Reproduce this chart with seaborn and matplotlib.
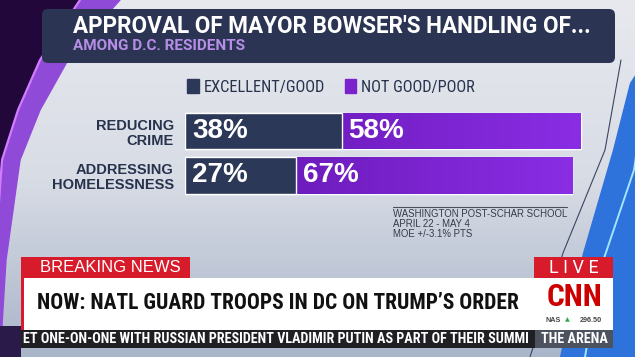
import matplotlib
matplotlib.use("Agg")
import matplotlib.pyplot as plt
import matplotlib.patches as mpatches
from matplotlib import font_manager
from matplotlib.colors import LinearSegmentedColormap
import numpy as np
import pandas as pd
import seaborn as sns

# --- chart data ---
topics = ["REDUCING\nCRIME", "ADDRESSING\nHOMELESSNESS"]
good = [38, 27]
poor = [58, 67]
series_names = ["EXCELLENT/GOOD", "NOT GOOD/POOR"]

title = "APPROVAL OF MAYOR BOWSER'S HANDLING OF..."
subtitle = "AMONG D.C. RESIDENTS"
source_lines = ["WASHINGTON POST-SCHAR SCHOOL", "APRIL 22 - MAY 4", "MOE +/-3.1% PTS"]
headline = "NOW: NATL GUARD TROOPS IN DC ON TRUMP\u2019S ORDER"
ticker = "ET ONE-ON-ONE WITH RUSSIAN PRESIDENT VLADIMIR PUTIN AS PART OF THEIR SUMMI"
ticker_tag = "THE ARENA"
stock = ("NAS", "296.50")

NAVY = "#2b3858"
PURPLE = "#7a22cc"
RED = "#d81b2b"

# pick a narrow face if one is installed
avail = {f.name for f in font_manager.fontManager.ttflist}
narrow = [n for n in ["Liberation Sans Narrow", "Roboto Condensed", "Open Sans Condensed",
                      "Noto Sans Condensed", "DejaVu Sans Condensed"] if n in avail]
COND = narrow[:1] + ["DejaVu Sans"]
SANS = ["Liberation Sans", "DejaVu Sans"]
HEAD = ["Roboto", "DejaVu Sans"]

sns.set_theme(style="white")
plt.rcParams["font.family"] = SANS

fig = plt.figure(figsize=(6.35, 3.57), dpi=100)


def fit_width(txt, width_px):
    # scale a text so that it spans the width it has in the broadcast graphic
    fig.canvas.draw()
    bb = txt.get_window_extent(fig.canvas.get_renderer())
    txt.set_fontsize(txt.get_fontsize() * width_px / bb.width)


# --- backdrop (pixel coordinates) ---
bg = fig.add_axes([0, 0, 1, 1])
grad = np.linspace(0, 1, 256).reshape(-1, 1)
bg_cmap = LinearSegmentedColormap.from_list("bg", ["#e7e9ee", "#d8dce5", "#a9b5c9"])
bg.imshow(grad, extent=[0, 635, 357, 0], cmap=bg_cmap, aspect="auto", zorder=0)

# purple swoosh on the left
yy = np.linspace(0, 357, 200)
m = np.interp(yy, [0, 30, 60, 110, 160, 357], [80, 60, 40, 18, 2, -12])
o = np.interp(yy, [0, 30, 60, 110, 160, 260, 357], [120, 93, 68, 40, 20, 6, 0])
bg.fill_betweenx(yy, 0, m, color="#22073a", zorder=1)
bg.fill_betweenx(yy, m, o, color="#8f4ad8", zorder=1)
bg.plot(m, yy, color="#d27bff", lw=1.6, zorder=2)
bg.add_patch(mpatches.Rectangle((0, 326), 21, 31, fc="#2a1a4a", ec="none", zorder=1))

# blue swoosh on the right
yr = np.linspace(60, 357, 120)
dl = np.interp(yr, [60, 150, 253, 357], [621, 605, 563, 530])
bg.plot(dl, yr, color="#3a4560", lw=0.8, zorder=2)
xr = np.interp(yr, [60, 83, 150, 253, 357], [645, 630, 613, 583, 560])
bg.fill_betweenx(yr, xr, 640, color="#2e72dc", zorder=1)
gl = np.interp(yr, [60, 170, 270, 357], [650, 634, 600, 585])
bg.plot(gl, yr, color="#9fe6ff", lw=1.4, zorder=2)

bg.add_patch(mpatches.FancyBboxPatch((44, 11), 569, 50, boxstyle="round,pad=2,rounding_size=6",
                                     fc="#2b3553", ec="none", zorder=3))
t_title = bg.text(73, 26.5, title, color="white", fontsize=15.5, fontweight="bold", family=HEAD,
                  va="center", ha="left", zorder=4)
t_sub = bg.text(73, 46.5, subtitle, color="#b68ee6", fontsize=10.5, fontweight="bold", family=HEAD,
                va="center", ha="left", zorder=4)

# source note
bg.plot([393, 567], [207, 207], color="#4a5060", lw=0.8, zorder=3)
for i, line in enumerate(source_lines):
    bg.text(393, 214 + i * 9.8, line, color="#353b4a", fontsize=6.9, va="center", ha="left", zorder=3)

# lower third
R = 613
bg.add_patch(mpatches.Rectangle((21, 257), 169, 22, fc=RED, ec="none", zorder=5))
t_brk = bg.text(40, 268, "BREAKING NEWS", color="white", fontsize=12, va="center", ha="left", zorder=6)
bg.add_patch(mpatches.Rectangle((534, 257), R - 534, 22, fc=RED, ec="none", zorder=5))
t_live = bg.text(574, 268, "L I V E", color="white", fontsize=11.5, family=HEAD, va="center", ha="center", zorder=6)
bg.add_patch(mpatches.Rectangle((21, 278), R - 21, 52, fc="white", ec="none", zorder=5))
bg.add_patch(mpatches.Rectangle((21, 278), 3, 52, fc=RED, ec="none", zorder=6))
t_head = bg.text(37, 303, headline, color="#111111", fontsize=16, fontweight="bold", family=COND,
                 fontstretch="condensed", va="center", ha="left", zorder=6)
t_cnn = bg.text(574, 297, "CNN", color="#cc0000", fontsize=19, fontweight="bold", family=COND,
                fontstretch="condensed", va="center", ha="center", zorder=6)
bg.text(545, 320, stock[0], color="#444444", fontsize=5.2, fontweight="bold", va="center", ha="left", zorder=6)
bg.text(570, 320, "\u25b2", color="#2aa84a", fontsize=4.5, family=["DejaVu Sans"], va="center", ha="right", zorder=6)
bg.text(602, 320, stock[1], color="#444444", fontsize=5.2, fontweight="bold", va="center", ha="right", zorder=6)
bg.add_patch(mpatches.Rectangle((21, 330), 514, 18, fc="#1f1f24", ec="none", zorder=5))
bg.add_patch(mpatches.Rectangle((535, 330), R - 535, 18, fc="#4c525e", ec="none", zorder=5))
t_tick = bg.text(23, 339, ticker, color="white", fontsize=8.5, fontweight="bold", family=COND,
                 fontstretch="condensed", va="center", ha="left", zorder=6)
t_tag = bg.text(574, 339, ticker_tag, color="white", fontsize=8.5, fontweight="bold", family=COND,
                fontstretch="condensed", va="center", ha="center", zorder=7)

bg.set_xlim(0, 635)
bg.set_ylim(357, 0)
bg.axis("off")

# --- stacked bar chart ---
ax = fig.add_axes([185 / 635, 1 - 197.75 / 357, 412 / 635, 89 / 357])
df = pd.DataFrame({"topic": topics, "good": good, "poor": poor})
df["total"] = df["good"] + df["poor"]

sns.barplot(data=df, y="topic", x="total", color=PURPLE, saturation=1, width=0.82, ax=ax, zorder=2)
sns.barplot(data=df, y="topic", x="good", color=NAVY, saturation=1, width=0.82, ax=ax, zorder=3)

# purple gradient inside the NOT GOOD bars
pcmap = LinearSegmentedColormap.from_list("p", ["#6215ae", "#8a2de4"])
hgrad = np.linspace(0, 1, 256).reshape(1, -1)
for patch in ax.patches[:len(topics)]:
    x0, y0 = patch.get_x(), patch.get_y()
    w, h = patch.get_width(), patch.get_height()
    im = ax.imshow(hgrad, extent=[x0, x0 + w, y0 + h, y0], cmap=pcmap, aspect="auto", zorder=2.5)
    im.set_clip_path(patch)

for i, (g, p) in enumerate(zip(good, poor)):
    ax.text(1.7, i, f"{g}%", color="white", fontsize=20, fontweight="bold", va="center", ha="left", zorder=5)
    ax.text(g + 1.7, i, f"{p}%", color="white", fontsize=20, fontweight="bold", va="center", ha="left", zorder=5)

ax.set_xlim(0, 100)
ax.set_ylim(1.5, -0.5)
ax.set_xlabel("")
ax.set_ylabel("")
ax.set_xticks([])
ax.tick_params(axis="y", length=0, pad=8)
for lab in ax.get_yticklabels():
    lab.set_fontsize(10.5)
    lab.set_fontweight("bold")
    lab.set_color("#27324d")
    lab.set_ha("right")
    lab.set_multialignment("right")
    lab.set_linespacing(1.1)
ax.patch.set_alpha(0)
for s in ax.spines.values():
    s.set_visible(False)

handles = [mpatches.Patch(color=NAVY), mpatches.Patch(color=PURPLE)]
leg = ax.legend(handles, series_names, ncol=2, loc="center left", bbox_to_anchor=(-0.03, 1.245),
                frameon=False, handlelength=0.7, handleheight=0.9, handletextpad=0.3, columnspacing=1.2,
                prop={"family": COND, "size": 11.8, "stretch": "condensed"}, labelcolor="#27324d")

# match widths of the broadcast lettering
fit_width(t_title, 517)
fit_width(t_sub, 172)
fit_width(t_head, 482)
fit_width(t_tick, 500)
fit_width(t_tag, 66)
fit_width(t_brk, 140)
fit_width(t_live, 50)
fit_width(t_cnn, 56)

fig.savefig("out.png", dpi=100)
